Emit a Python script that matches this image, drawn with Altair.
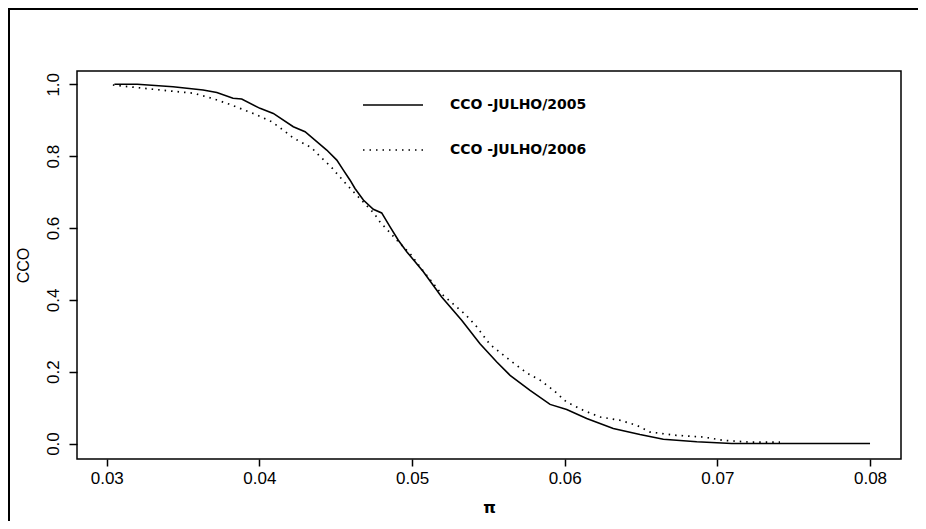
import altair as alt
import pandas as pd

# Series
x2005 = [0.0305, 0.0320, 0.03434, 0.03631, 0.03721, 0.03827, 0.03884, 0.04004, 0.04091,
         0.04222, 0.04299, 0.04441, 0.04507, 0.04550, 0.04594, 0.04626, 0.04681, 0.04746,
         0.04801, 0.04856, 0.04910, 0.04965, 0.05074, 0.05194, 0.05325, 0.05445, 0.05555,
         0.05642, 0.05773, 0.05904, 0.06013, 0.06144, 0.06318, 0.06493, 0.06646, 0.06865,
         0.07094, 0.0800]
y2005 = [1.000, 1.000, 0.993, 0.984, 0.977, 0.961, 0.959, 0.933, 0.919,
         0.882, 0.868, 0.817, 0.789, 0.761, 0.733, 0.710, 0.678, 0.652,
         0.642, 0.603, 0.566, 0.534, 0.478, 0.408, 0.343, 0.278, 0.227,
         0.190, 0.148, 0.109, 0.095, 0.070, 0.042, 0.025, 0.012, 0.005,
         0.000, 0.000]

x2006 = [0.0304, 0.0333, 0.0357, 0.0369, 0.0380, 0.0397, 0.0408, 0.0417, 0.0422, 0.0434,
         0.0440, 0.0447, 0.0450, 0.0458, 0.0475, 0.0479, 0.0482, 0.0491, 0.0499, 0.0507,
         0.0519, 0.0535, 0.0542, 0.0551, 0.0565, 0.0575, 0.0584, 0.0593, 0.0601, 0.0612,
         0.0623, 0.0636, 0.0647, 0.0656, 0.0673, 0.0691, 0.0704, 0.0721, 0.0741]
y2006 = [0.998, 0.985, 0.975, 0.961, 0.945, 0.917, 0.896, 0.868, 0.851, 0.824,
         0.798, 0.770, 0.755, 0.717, 0.641, 0.617, 0.603, 0.562, 0.527, 0.482,
         0.418, 0.359, 0.327, 0.276, 0.229, 0.197, 0.176, 0.147, 0.116, 0.093,
         0.074, 0.065, 0.051, 0.032, 0.023, 0.018, 0.009, 0.004, 0.004]

legend_labels = ["CCO -JULHO/2005", "CCO -JULHO/2006"]
x_ticks = [0.03, 0.04, 0.05, 0.06, 0.07, 0.08]
y_ticks = [0.0, 0.2, 0.4, 0.6, 0.8, 1.0]

d05 = pd.DataFrame({"x": x2005, "y": y2005})
d06 = pd.DataFrame({"x": x2006, "y": y2006})

FONT = "Liberation Sans"

xs = alt.Scale(domain=[0.02805, 0.08203], nice=False, zero=False)
ys = alt.Scale(domain=[-0.043, 1.037], nice=False, zero=False)

xax = alt.Axis(values=x_ticks, format=".2f", grid=False, domain=False, tickColor="black",
               tickWidth=1.5, tickSize=7, labelFont=FONT, labelFontSize=17, labelColor="black",
               labelPadding=4, title="π", titleFont="DejaVu Sans", titleFontSize=16,
               titleFontWeight="bold", titleColor="black", titlePadding=13)
yax = alt.Axis(values=y_ticks, format=".1f", grid=False, domain=False, tickColor="black",
               tickWidth=1.5, tickSize=8, labelFont=FONT, labelFontSize=17, labelColor="black",
               labelAngle=270, labelAlign="center", labelBaseline="bottom", labelPadding=7,
               title="CCO", titleFont=FONT, titleFontSize=16, titleFontWeight="normal",
               titleColor="black", titlePadding=13)

line05 = alt.Chart(d05).mark_line(color="black", strokeWidth=1.6).encode(
    x=alt.X("x:Q", scale=xs, axis=xax),
    y=alt.Y("y:Q", scale=ys, axis=yax),
)
line06 = alt.Chart(d06).mark_line(color="black", strokeWidth=1.7, strokeDash=[1.5, 5]).encode(
    x=alt.X("x:Q", scale=xs),
    y=alt.Y("y:Q", scale=ys),
)

one = alt.Data(values=[{}])
leg1 = alt.Chart(one).mark_rule(color="black", strokeWidth=1.6).encode(
    x=alt.value(286), x2=alt.value(346), y=alt.value(34))
leg2 = alt.Chart(one).mark_rule(color="black", strokeWidth=1.7, strokeDash=[1.5, 5]).encode(
    x=alt.value(286), x2=alt.value(346), y=alt.value(79))
t1 = alt.Chart(one).mark_text(text=legend_labels[0], font="DejaVu Sans", fontSize=14,
                              fontWeight="bold", align="left", baseline="middle",
                              color="black").encode(x=alt.value(373), y=alt.value(34))
t2 = alt.Chart(one).mark_text(text=legend_labels[1], font="DejaVu Sans", fontSize=14,
                              fontWeight="bold", align="left", baseline="middle",
                              color="black").encode(x=alt.value(373), y=alt.value(79))
frame_top = alt.Chart(one).mark_rule(color="black", strokeWidth=2, clip=False).encode(
    x=alt.value(-69), x2=alt.value(900), y=alt.value(-62))
frame_left = alt.Chart(one).mark_rule(color="black", strokeWidth=2, clip=False).encode(
    x=alt.value(-68), y=alt.value(-63), y2=alt.value(520))

chart = alt.layer(frame_top, frame_left, line05, line06, leg1, leg2, t1, t2).properties(
    width=824, height=388,
    padding={"left": 69, "top": 63, "right": 17, "bottom": 62},
    autosize=alt.AutoSizeParams(type="none"),
    background="white",
).configure_view(stroke="black", strokeWidth=1.5)

chart.save("out.html", embed_options={"renderer": "svg", "actions": False})
